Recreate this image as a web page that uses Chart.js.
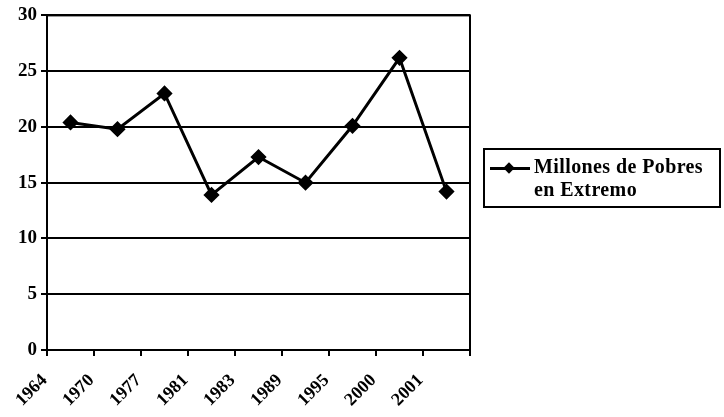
<!DOCTYPE html>
<html>
<head>
<meta charset="utf-8">
<script src="https://cdn.jsdelivr.net/npm/chart.js@4"></script>
<style>
	html, body { margin: 0; padding: 0; background: #ffffff; }
	#wrap { position: relative; width: 724px; height: 417px; }
	#legend {
		position: absolute; left: 483px; top: 148px; width: 238px; height: 60px;
		border: 2px solid #000; box-sizing: border-box;
		font: bold 20px "Liberation Serif", "DejaVu Serif", serif; color: #000;
		letter-spacing: 0.4px;
		padding: 5px 0 0 5px; line-height: 23px; white-space: nowrap;
	}
	#legend .mark { display: inline-block; position: relative; width: 40px; height: 10px; vertical-align: middle; margin-right: 4px; }
	#legend .mark::before { content: ""; position: absolute; left: 0; right: 0; top: 4px; height: 2.5px; background: #000; }
	#legend .mark::after { content: ""; position: absolute; left: 15px; top: 1px; width: 8px; height: 8px; background: #000; transform: rotate(45deg); }
	#legend .second { padding-left: 44px; }
</style>
</head>
<body>
<div id="wrap">
	<canvas id="chart" width="724" height="417"></canvas>
	<div id="legend"><span class="mark"></span>Millones de Pobres<div class="second">en Extremo</div></div>
</div>
<script>
const years = ["1964", "1970", "1977", "1981", "1983", "1989", "1995", "2000", "2001"];
const pobresExtremos = [20.4, 19.8, 23.0, 13.9, 17.3, 15.0, 20.1, 26.2, 14.2];
const seriesName = "Millones de Pobres en Extremo";

const tickFont = { family: "'Liberation Serif', 'DejaVu Serif', serif", weight: "bold", size: 19 };

// outline of the plot area, like the original spreadsheet chart
const plotBorder = {
	id: "plotBorder",
	afterDatasetsDraw(chart) {
		const { ctx, chartArea: a } = chart;
		ctx.save();
		ctx.strokeStyle = "#000";
		ctx.lineWidth = 2;
		ctx.strokeRect(a.left, a.top, a.right - a.left, a.bottom - a.top);
		ctx.restore();
	}
};

new Chart(document.getElementById("chart"), {
	type: "line",
	data: {
		labels: years,
		datasets: [{
			label: seriesName,
			data: pobresExtremos,
			borderColor: "#000",
			backgroundColor: "#000",
			borderWidth: 3,
			pointStyle: "rectRot",
			pointRadius: 6,
			pointHoverRadius: 6,
			tension: 0
		}]
	},
	options: {
		responsive: false,
		animation: false,
		layout: { padding: { left: 6, right: 254, top: 14, bottom: 0 } },
		plugins: {
			legend: { display: false },
			tooltip: { enabled: false }
		},
		scales: {
			x: {
				offset: true,
				afterFit: s => { s.height = 67; },
				grid: { display: true, drawOnChartArea: false, drawTicks: true, tickLength: 6, color: "#000", lineWidth: 2, offset: true },
				border: { color: "#000", width: 2 },
				ticks: { color: "#000", font: { ...tickFont, size: 18 }, minRotation: 45, maxRotation: 45, padding: 14, labelOffset: -26 }
			},
			y: {
				min: 0,
				max: 30,
				afterFit: s => { s.width = 41; },
				grid: { color: "#000", lineWidth: 2, tickLength: 6 },
				border: { color: "#000", width: 2 },
				ticks: { stepSize: 5, color: "#000", font: tickFont, padding: 4 }
			}
		}
	},
	plugins: [plotBorder]
});
</script>
</body>
</html>
